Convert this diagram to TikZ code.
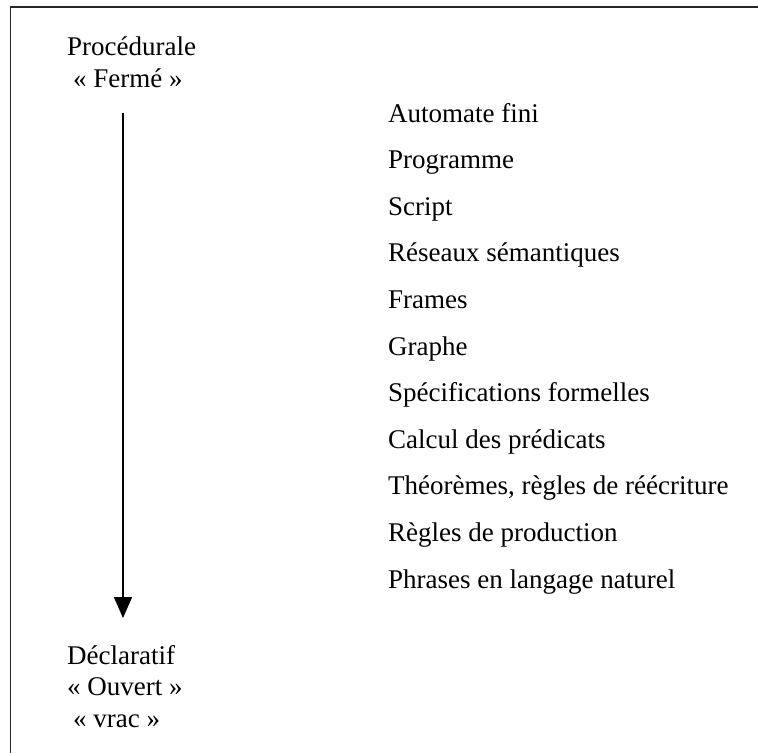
\documentclass[tikz,border=0pt]{standalone}
\usepackage{fontspec}
\setmainfont{Liberation Serif}
\usetikzlibrary{arrows.meta}
\begin{document}
\begin{tikzpicture}[x=1pt,y=-1pt,
  label/.style={anchor=base west,inner sep=0pt,font=\fontsize{27}{32}\selectfont},
  frameline/.style={line width=1.6pt,black!85},
  axis/.style={line width=1.8pt,-{Triangle[width=18pt,length=21pt]}}]
  \useasboundingbox (0,0) rectangle (758,753);
  % frame (top and left edges)
  \draw[frameline] (10.5,753) -- (10.5,7) -- (758,7);
  % left axis labels
  \node[label] (proc)  at (67,55)  {Procédurale};
  \node[label] (ferme) at (73,87)  {« Fermé »};
  \node[label] (decl)  at (67,664) {Déclaratif};
  \node[label] (ouv)   at (67,695) {« Ouvert »};
  \node[label] (vrac)  at (73,727) {« vrac »};
  % axis arrow
  \coordinate (axtop) at (123,113);
  \coordinate (axbot) at (123,618);
  \draw[axis] (axtop) -- (axbot);
  % list of representations
  \foreach \t [count=\i from 0] in {Automate fini,Programme,Script,Réseaux sémantiques,Frames,Graphe,Spécifications formelles,Calcul des prédicats,{Théorèmes, règles de réécriture},Règles de production,Phrases en langage naturel}
    \node[label] (item\i) at (388,{122+46.6*\i}) {\t};
\end{tikzpicture}
\end{document}
